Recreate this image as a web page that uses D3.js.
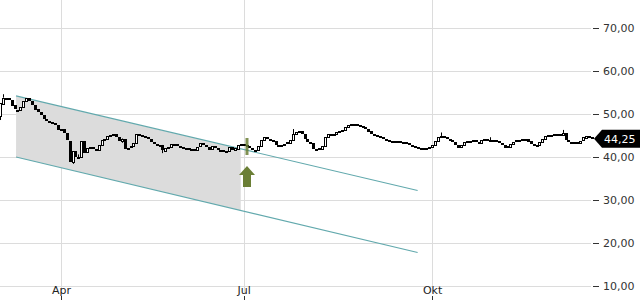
<!DOCTYPE html>
<html>
<head>
<meta charset="utf-8">
<script src="https://cdn.jsdelivr.net/npm/d3@7"></script>
<style>
	body { margin: 0; background: #fff; }
	svg { display: block; font-family: "DejaVu Sans", sans-serif; }
</style>
</head>
<body>
<svg id="chart" width="640" height="300"></svg>
<script>
// daily closes (one per trading day), first candle opens at firstOpen
var firstOpen = 49.5;
var closes = [
	52.5, 53.8, 53.8, 53.3, 52.0, 51.0, 51.0, 51.7, 53.0, 53.7,
	53.1, 52.2, 51.1, 50.5, 49.8, 48.9, 48.4, 48.1, 47.9, 47.4,
	46.3, 46.5, 45.5, 43.8, 38.8, 41.3, 40.0, 40.0, 43.8, 41.0,
	42.0, 42.3, 41.8, 41.7, 42.8, 44.0, 44.3, 45.0, 45.1, 45.3,
	44.7, 43.8, 44.3, 42.0, 42.2, 42.5, 43.3, 45.3, 45.2, 45.0,
	44.6, 44.2, 43.5, 43.1, 42.9, 42.8, 41.6, 42.2, 42.4, 43.0,
	43.0, 42.6, 42.3, 42.0, 42.0, 41.9, 41.8, 41.6, 42.4, 43.2,
	42.7, 42.4, 41.8, 42.5, 42.2, 41.7, 41.6, 41.5, 41.4, 42.3,
	41.5, 42.0, 42.9, 43.0, 42.9, 42.6, 42.2, 41.7, 41.5, 42.5,
	44.0, 44.7, 44.2, 43.9, 43.8, 42.9, 42.8, 42.9, 43.1, 43.4,
	44.0, 45.4, 45.8, 46.0, 45.3, 44.2, 43.6, 43.3, 41.8, 41.7,
	42.0, 42.6, 44.7, 45.4, 45.2, 45.3, 45.7, 46.0, 46.3, 47.0,
	47.5, 47.7, 47.7, 47.4, 47.1, 47.0, 46.6, 46.0, 45.4, 45.2,
	45.0, 44.7, 44.3, 43.9, 43.8, 43.8, 43.8, 43.7, 43.6, 43.5,
	43.3, 42.9, 42.5, 42.3, 42.2, 42.1, 42.0, 42.2, 42.3, 42.8,
	43.7, 44.6, 44.9, 44.6, 44.2, 43.9, 43.4, 42.8, 42.2, 42.7,
	43.4, 43.7, 43.7, 44.0, 43.6, 43.3, 44.0, 44.2, 43.9, 44.0,
	43.9, 43.7, 43.3, 42.9, 42.3, 42.5, 43.1, 43.6, 43.9, 44.0,
	44.1, 44.3, 43.7, 43.0, 42.7, 42.8, 43.6, 44.2, 44.8, 45.1,
	45.2, 45.3, 45.3, 45.2, 45.6, 44.0, 43.6, 43.5, 43.4, 43.3,
	43.8, 44.6, 45.0, 44.6, 44.25
];
// a few visible wicks: [index, low, high]
var wicks = [[0, 48.6, 52.5], [1, 53.8, 54.6], [25, 38.4, 41.3], [27, 39.6, 40.6], [42, 43.3, 44.3],
	[56, 40.9, 42.8], [101, 44.0, 46.5], [152, 44.9, 45.7], [169, 43.9, 44.6], [194, 45.6, 46.3]];

var monthLabels = ['Apr', 'Jul', 'Okt'];
var monthIndex = [21, 84, 149];
var yTicks = [10, 20, 30, 40, 50, 60, 70];

// trend channel: [start index, end index] and line values there
var channelIndex = [5.5, 144];
var channelUpper = [54.2, 32.2];
var channelLower = [40.0, 17.8];
var shadeEndIndex = 83;
var signalIndex = 85;
var lastPrice = 44.25;

var svg = d3.select('#chart');
var plotRight = 591;

var x = d3.scaleLinear().domain([0, closes.length - 1]).range([0.1, 591.6]);
var y = d3.scaleLinear().domain([10, 70]).range([286, 28]);
var fmt = d3.formatLocale({decimal: ',', thousands: '.', grouping: [3], currency: ['', '€']}).format(',.2f');

// grid
svg.append('g').selectAll('line').data(yTicks).enter().append('line')
	.attr('x1', 0).attr('x2', plotRight)
	.attr('y1', function (d) { return Math.round(y(d)) + 0.5; })
	.attr('y2', function (d) { return Math.round(y(d)) + 0.5; })
	.style('stroke', '#dcdcdc');
svg.append('g').selectAll('line').data(monthIndex).enter().append('line')
	.attr('x1', function (d) { return Math.round(x(d)) + 0.5; })
	.attr('x2', function (d) { return Math.round(x(d)) + 0.5; })
	.attr('y1', 0).attr('y2', 293)
	.style('stroke', '#dcdcdc');

// channel
function lineAt(vals, i) {
	var t = (i - channelIndex[0]) / (channelIndex[1] - channelIndex[0]);
	return vals[0] + t * (vals[1] - vals[0]);
}
var shadeIdx = [channelIndex[0], shadeEndIndex];
var shadePts = shadeIdx.map(function (i) { return [x(i), y(lineAt(channelUpper, i))]; })
	.concat(shadeIdx.slice().reverse().map(function (i) { return [x(i), y(lineAt(channelLower, i))]; }));
svg.append('path').attr('d', d3.line()(shadePts)).style('fill', '#dcdcdc');
[channelUpper, channelLower].forEach(function (vals) {
	svg.append('line')
		.attr('x1', x(channelIndex[0])).attr('y1', y(vals[0]))
		.attr('x2', x(channelIndex[1])).attr('y2', y(vals[1]))
		.style('stroke', '#62a9ad').style('stroke-width', 1.2);
});

// candles
var candles = closes.map(function (c, i) {
	return {i: i, open: i === 0 ? firstOpen : closes[i - 1], close: c};
});
var cg = svg.append('g');
cg.selectAll('line').data(wicks).enter().append('line')
	.attr('x1', function (d) { return Math.round(x(d[0])) + 0.5; })
	.attr('x2', function (d) { return Math.round(x(d[0])) + 0.5; })
	.attr('y1', function (d) { return y(d[1]); })
	.attr('y2', function (d) { return y(d[2]); })
	.style('stroke', '#000');
cg.selectAll('rect').data(candles).enter().append('rect')
	.attr('x', function (d) { return Math.round(x(d.i)) - 1 + (d.close >= d.open ? 0.5 : 0); })
	.attr('width', function (d) { return d.close >= d.open ? 2 : 3; })
	.attr('y', function (d) {
		var top = Math.round(y(Math.max(d.open, d.close)));
		return d.close >= d.open ? top + 0.5 : top;
	})
	.attr('height', function (d) {
		var h = Math.round(Math.abs(y(d.open) - y(d.close)));
		return d.close >= d.open ? Math.max(h, 1) : Math.max(h, 2);
	})
	.style('fill', function (d) { return d.close >= d.open ? '#fff' : '#000'; })
	.style('stroke', function (d) { return d.close >= d.open ? '#000' : 'none'; })
	.style('stroke-width', 1);

// signal marker
var sx = Math.round(x(signalIndex));
svg.append('rect').attr('x', sx - 1.5).attr('y', 138).attr('width', 3).attr('height', 17)
	.style('fill', '#6b7f36').style('opacity', 0.85);
svg.append('path')
	.attr('d', 'M' + sx + ',166 L' + (sx + 8) + ',175 L' + (sx + 4) + ',175 L' + (sx + 4) + ',187 L' +
		(sx - 4) + ',187 L' + (sx - 4) + ',175 L' + (sx - 8) + ',175 Z')
	.style('fill', '#6b7f36');

// y axis on the right
var ya = svg.append('g');
ya.selectAll('line').data(yTicks).enter().append('line')
	.attr('x1', 593).attr('x2', 599)
	.attr('y1', function (d) { return Math.round(y(d)) + 0.5; })
	.attr('y2', function (d) { return Math.round(y(d)) + 0.5; })
	.style('stroke', '#333');
ya.selectAll('text').data(yTicks).enter().append('text')
	.attr('x', 603).attr('y', function (d) { return y(d) + 4; })
	.style('font-size', '11px').style('fill', '#333')
	.text(function (d) { return fmt(d); });

// x axis labels
var xa = svg.append('g');
xa.selectAll('text').data(monthLabels).enter().append('text')
	.attr('x', function (d, i) { return x(monthIndex[i]) + 0.5; })
	.attr('y', 294)
	.attr('text-anchor', 'middle')
	.style('font-size', '11px').style('fill', '#222')
	.text(function (d) { return d; });
xa.selectAll('line').data(monthIndex).enter().append('line')
	.attr('x1', function (d) { return Math.round(x(d)) + 0.5; })
	.attr('x2', function (d) { return Math.round(x(d)) + 0.5; })
	.attr('y1', 296).attr('y2', 300)
	.style('stroke', '#333');

// last price tag
var ly = y(lastPrice);
svg.append('path')
	.attr('d', 'M594,' + ly + ' L602,' + (ly - 9) + ' L640,' + (ly - 9) + ' L640,' + (ly + 9) + ' L602,' + (ly + 9) + ' Z')
	.style('fill', '#000');
svg.append('text').attr('x', 604).attr('y', ly + 4)
	.style('font-size', '11px').style('fill', '#fff')
	.text(fmt(lastPrice));
</script>
</body>
</html>
